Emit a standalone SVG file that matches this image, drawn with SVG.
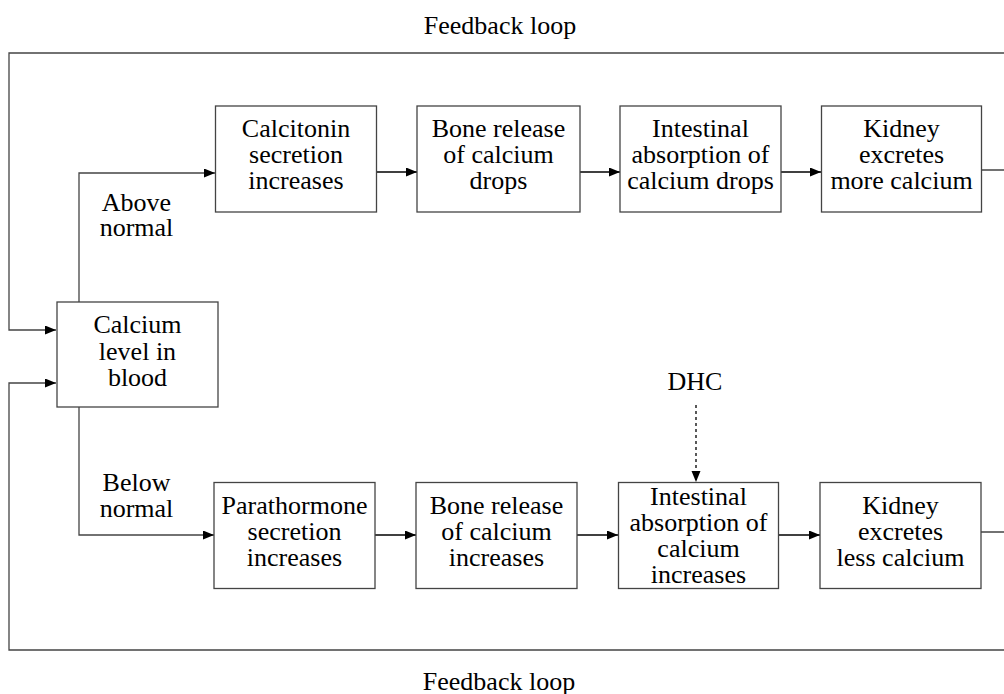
<svg xmlns="http://www.w3.org/2000/svg" width="1004" height="694" viewBox="0 0 1004 694">
<style>
text{font-family:"Liberation Serif","Times New Roman",serif;font-size:26px;fill:#000;text-anchor:middle}
.box{fill:#fff;stroke:#444;stroke-width:1.3}
.loop{fill:none;stroke:#444;stroke-width:1.3}
.arr{fill:none;stroke:#000;stroke-width:1.3}
.dash{fill:none;stroke:#000;stroke-width:1.3;stroke-dasharray:3 3}
</style>
<defs>
<marker id="ah" markerUnits="userSpaceOnUse" markerWidth="12" markerHeight="10" refX="11" refY="4.5" orient="auto">
<path d="M0,0 L11,4.5 L0,9 z" fill="#000"/>
</marker>
</defs>
<rect width="1004" height="694" fill="#fff"/>
<g id="connectors">
<path class="loop" d="M982,170 H1012 V53 H9 V330 H56" marker-end="url(#ah)"/>
<path class="loop" d="M981,532 H1012 V650 H9 V383 H56" marker-end="url(#ah)"/>
<path class="loop" d="M79,302 V173 H215" marker-end="url(#ah)"/>
<path class="loop" d="M79,407 V535 H214" marker-end="url(#ah)"/>
<path class="arr" d="M377,172 H417" marker-end="url(#ah)"/>
<path class="arr" d="M580,172 H620" marker-end="url(#ah)"/>
<path class="arr" d="M781,172 H821" marker-end="url(#ah)"/>
<path class="arr" d="M375,535 H416" marker-end="url(#ah)"/>
<path class="arr" d="M577,535 H618" marker-end="url(#ah)"/>
<path class="arr" d="M778,535 H820" marker-end="url(#ah)"/>
<path class="dash" d="M696,405 V482" marker-end="url(#ah)"/>
</g>
<g id="label-feedback-top"><text x="500" y="34">Feedback loop</text></g>
<g id="label-feedback-bottom"><text x="499" y="690">Feedback loop</text></g>
<g id="label-above"><text x="136.5" y="211">Above</text><text x="136.5" y="236">normal</text></g>
<g id="label-below"><text x="136.5" y="491">Below</text><text x="136.5" y="517">normal</text></g>
<g id="label-dhc"><text x="695" y="390">DHC</text></g>
<g id="calcium">
<rect class="box" x="57" y="302" width="161" height="105"/>
<text x="137.5" y="333">Calcium</text><text x="137.5" y="360">level in</text><text x="137.5" y="386">blood</text>
</g>
<g id="calcitonin">
<rect class="box" x="215.5" y="106" width="161" height="106"/>
<text x="296" y="137">Calcitonin</text><text x="296" y="163">secretion</text><text x="296" y="189">increases</text>
</g>
<g id="bone-drops">
<rect class="box" x="417" y="106" width="163" height="106"/>
<text x="498.5" y="137">Bone release</text><text x="498.5" y="163">of calcium</text><text x="498.5" y="189">drops</text>
</g>
<g id="intestinal-drops">
<rect class="box" x="620" y="106" width="161" height="106"/>
<text x="700.5" y="137">Intestinal</text><text x="700.5" y="163">absorption of</text><text x="700.5" y="189">calcium drops</text>
</g>
<g id="kidney-more">
<rect class="box" x="821.5" y="106" width="160" height="106"/>
<text x="901.5" y="137">Kidney</text><text x="901.5" y="163">excretes</text><text x="901.5" y="189">more calcium</text>
</g>
<g id="parathormone">
<rect class="box" x="214" y="482.5" width="161" height="106"/>
<text x="294.5" y="514">Parathormone</text><text x="294.5" y="540">secretion</text><text x="294.5" y="566">increases</text>
</g>
<g id="bone-increases">
<rect class="box" x="416" y="482.5" width="161" height="106"/>
<text x="496.5" y="514">Bone release</text><text x="496.5" y="540">of calcium</text><text x="496.5" y="566">increases</text>
</g>
<g id="intestinal-increases">
<rect class="box" x="618.5" y="482.5" width="160" height="106"/>
<text x="698.5" y="505">Intestinal</text><text x="698.5" y="531">absorption of</text><text x="698.5" y="557">calcium</text><text x="698.5" y="583">increases</text>
</g>
<g id="kidney-less">
<rect class="box" x="820" y="482.5" width="161" height="106"/>
<text x="900.5" y="514">Kidney</text><text x="900.5" y="540">excretes</text><text x="900.5" y="566">less calcium</text>
</g>
</svg>
